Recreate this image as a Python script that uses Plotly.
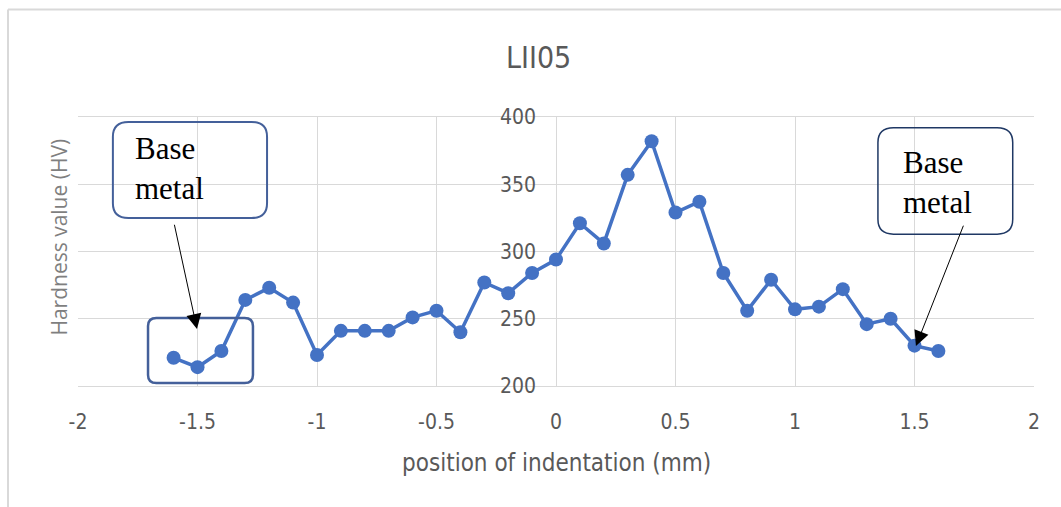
import plotly.graph_objects as go

# ---- data ----
positions = [-1.6, -1.5, -1.4, -1.3, -1.2, -1.1, -1.0, -0.9, -0.8, -0.7, -0.6,
             -0.5, -0.4, -0.3, -0.2, -0.1, 0.0, 0.1, 0.2, 0.3, 0.4, 0.5, 0.6,
             0.7, 0.8, 0.9, 1.0, 1.1, 1.2, 1.3, 1.4, 1.5, 1.6]
hardness = [221, 214, 226, 264, 273, 262, 223, 241, 241, 241, 251,
            256, 240, 277, 269, 284, 294, 321, 306, 357, 382, 329, 337,
            284, 256, 279, 257, 259, 272, 246, 250, 230, 226]
x_ticks = [-2, -1.5, -1, -0.5, 0, 0.5, 1, 1.5, 2]
x_tick_text = ["-2", "-1.5", "-1", "-0.5", "0", "0.5", "1", "1.5", "2"]
y_ticks = [200, 250, 300, 350, 400]

title_text = "LII05"
x_title = "position of indentation (mm)"
y_title = "Hardness value (HV)"
label_text = "Base<br>metal"

COND = "Liberation Sans Narrow, DejaVu Sans Condensed, Open Sans, sans-serif"
GREY = "#595959"
BLUE = "#4472c4"

fig = go.Figure()
fig.add_trace(go.Scatter(
    x=positions, y=hardness, mode="lines+markers",
    line=dict(color=BLUE, width=3.5),
    marker=dict(color=BLUE, size=14),
    showlegend=False, hoverinfo="x+y"))


def rrect(x0, x1, y0, y1, rx, ry):
    return (f"M {x0+rx},{y0} L {x1-rx},{y0} Q {x1},{y0} {x1},{y0+ry} "
            f"L {x1},{y1-ry} Q {x1},{y1} {x1-rx},{y1} L {x0+rx},{y1} "
            f"Q {x0},{y1} {x0},{y1-ry} L {x0},{y0+ry} Q {x0},{y0} {x0+rx},{y0} Z")


shapes = []
# call-out boxes
shapes.append(dict(type="path", xref="x", yref="y",
                   path=rrect(-1.854, -1.209, 324.9, 396.3, 0.065, 11),
                   line=dict(color="#44609a", width=2), fillcolor="rgba(0,0,0,0)"))
shapes.append(dict(type="path", xref="x", yref="y",
                   path=rrect(-1.707, -1.268, 202.2, 250.6, 0.035, 6),
                   line=dict(color="#44609a", width=2.5), fillcolor="rgba(0,0,0,0)"))
shapes.append(dict(type="path", xref="x", yref="y",
                   path=rrect(1.347, 1.911, 312.9, 392.0, 0.065, 11),
                   line=dict(color="#1f3864", width=1.5), fillcolor="rgba(0,0,0,0)"))
# outer chart frame (top and left edges visible)
shapes.append(dict(type="line", xref="paper", yref="paper", x0=-0.0732, x1=1.1,
                   y0=1.4, y1=1.4, line=dict(color="#d9d9d9", width=2)))
shapes.append(dict(type="line", xref="paper", yref="paper", x0=-0.0732, x1=-0.0732,
                   y0=1.4, y1=-0.5, line=dict(color="#d9d9d9", width=2)))

annotations = [
    dict(text=title_text, xref="paper", yref="paper", x=0.482, y=1.22,
         showarrow=False, font=dict(family=COND, size=30, color=GREY),
         xanchor="center", yanchor="middle"),
    dict(text=x_title, xref="paper", yref="paper", x=0.501, y=-0.285,
         showarrow=False, font=dict(family=COND, size=24, color=GREY),
         xanchor="center", yanchor="middle"),
    dict(text=y_title, xref="paper", yref="paper", x=-0.02, y=0.555,
         showarrow=False, textangle=-90,
         font=dict(family="Open Sans, sans-serif", size=21, color="#7f7f7f"),
         xanchor="center", yanchor="middle"),
    dict(text=label_text, xref="x", yref="y", x=-1.77, y=391,
         showarrow=False, align="left", xanchor="left", yanchor="top",
         font=dict(family="Liberation Serif, serif", size=31, color="black")),
    dict(text=label_text, xref="x", yref="y", x=1.445, y=381,
         showarrow=False, align="left", xanchor="left", yanchor="top",
         font=dict(family="Liberation Serif, serif", size=31, color="black")),
    dict(text="", xref="x", yref="y", x=-1.502, y=242.4, axref="x", ayref="y",
         ax=-1.598, ay=321, showarrow=True, arrowhead=2, arrowsize=3,
         arrowwidth=1, arrowcolor="black"),
    dict(text="", xref="x", yref="y", x=1.506, y=229.7, axref="x", ayref="y",
         ax=1.707, ay=320.3, showarrow=True, arrowhead=2, arrowsize=3,
         arrowwidth=1, arrowcolor="black"),
]

fig.update_layout(
    width=1061, height=507, autosize=False,
    margin=dict(l=78, r=27, t=117, b=121),
    paper_bgcolor="white", plot_bgcolor="white",
    shapes=shapes, annotations=annotations,
    xaxis=dict(range=[-2, 2], tickvals=x_ticks, ticktext=x_tick_text,
               showgrid=True, gridcolor="#d9d9d9", gridwidth=1,
               zeroline=False, showline=True, linecolor="#d9d9d9", linewidth=1,
               mirror=True, ticks="", ticklabelstandoff=17,
               tickfont=dict(family=COND, size=21, color=GREY)),
    yaxis=dict(range=[200, 400], tickvals=y_ticks, anchor="free", position=0.5,
               showgrid=True, gridcolor="#d9d9d9", gridwidth=1,
               zeroline=False, showline=False, ticks="", ticklabelstandoff=20,
               tickfont=dict(family=COND, size=21, color=GREY)),
)

fig.write_html("out.html")
